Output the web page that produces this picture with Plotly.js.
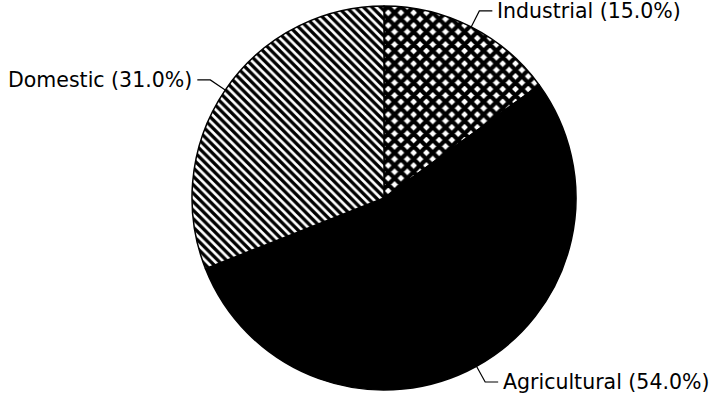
<!DOCTYPE html>
<html><head><meta charset="utf-8">
<script src="https://cdn.plot.ly/plotly-3.0.1.min.js"></script>
<style>html,body{margin:0;padding:0;background:#fff;}#chart{width:720px;height:405px;}</style>
</head><body><div id="chart"></div>
<script>
const labels = ["Industrial", "Agricultural", "Domestic"];
const values = [15.0, 54.0, 31.0];
const sliceColors = ["#ffffff", "#000000", "#ffffff"];
const patternShapes = ["x", "", "\\"];
const labelSide = ["right", "right", "left"];

const W = 720, H = 405;
const cx = 384, cy = 198, R = 192;

const total = values.reduce((a, b) => a + b, 0);
const shapes = [], annotations = [];
let cum = 0;
values.forEach((v, i) => {
  const mid = (cum + v / 2) / total * 2 * Math.PI;
  cum += v;
  const sx = Math.sin(mid), sy = -Math.cos(mid);
  const p0 = [cx + R * sx, cy + R * sy];
  const p1 = [cx + (R + 18) * sx, cy + (R + 18) * sy];
  const dir = labelSide[i] === "right" ? 1 : -1;
  const p2 = [p1[0] + dir * 13, p1[1]];
  const toP = p => [p[0] / W, 1 - p[1] / H];
  const a = toP(p0), b = toP(p1), c = toP(p2);
  shapes.push({type: "path", xref: "paper", yref: "paper",
    path: `M${a[0]},${a[1]} L${b[0]},${b[1]} L${c[0]},${c[1]}`,
    line: {color: "#000", width: 1.2}});
  const pct = (v / total * 100).toFixed(1);
  annotations.push({xref: "paper", yref: "paper", x: c[0] + dir * 3 / W, y: c[1],
    xanchor: dir > 0 ? "left" : "right", yanchor: "middle", showarrow: false,
    text: `${labels[i]} (${pct}%)`,
    font: {family: "DejaVu Sans", size: 20.5, color: "#000"}});
});

const trace = {
  type: "pie",
  labels: labels,
  values: values,
  sort: false,
  direction: "clockwise",
  rotation: 0,
  textinfo: "none",
  hoverinfo: "none",
  domain: {x: [(cx - R) / W, (cx + R) / W], y: [(H - cy - R) / H, (H - cy + R) / H]},
  marker: {
    colors: sliceColors,
    line: {color: "#000", width: 1.5},
    pattern: {shape: patternShapes, fgcolor: "#000", bgcolor: sliceColors, size: [9, 8, 6], solidity: [0.72, 0.5, 0.55], fillmode: "replace"}
  }
};

const layout = {
  width: W, height: H,
  margin: {l: 0, r: 0, t: 0, b: 0},
  paper_bgcolor: "#fff",
  showlegend: false,
  shapes: shapes,
  annotations: annotations
};
Plotly.newPlot("chart", [trace], layout, {staticPlot: true});
</script></body></html>
